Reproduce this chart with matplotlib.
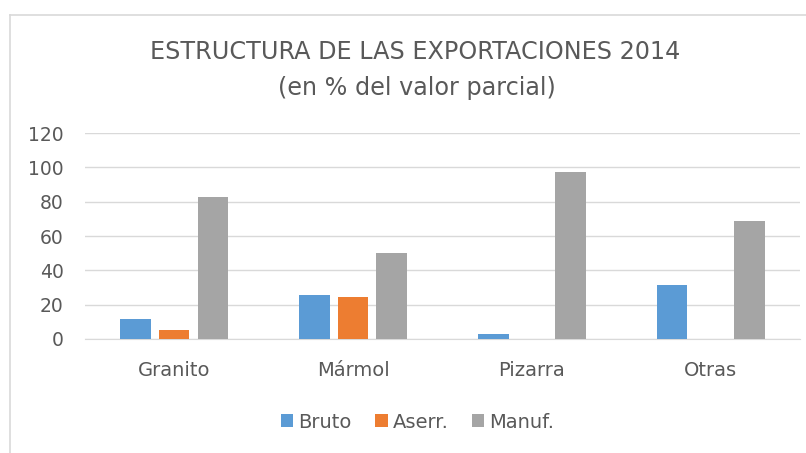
import matplotlib.pyplot as plt
from matplotlib.lines import Line2D
import numpy as np

categorias = ['Granito', 'Mármol', 'Pizarra', 'Otras']
series = ['Bruto', 'Aserr.', 'Manuf.']
bruto = [11.8, 25.8, 2.9, 31.2]
aserr = [5.4, 24.4, 0, 0]
manuf = [82.8, 49.8, 97.1, 68.8]
colores = ['#5B9BD5', '#ED7D31', '#A5A5A5']

texto = '#595959'

fig = plt.figure(figsize=(8.06, 4.53), dpi=100)
ax = fig.add_axes([0.105, 0.252, 0.888, 0.454])

x = np.arange(len(categorias))
ancho = 0.17
paso = 0.216
for i, (vals, nombre) in enumerate(zip([bruto, aserr, manuf], series)):
    ax.bar(x + (i - 1) * paso, vals, ancho, color=colores[i], label=nombre, zorder=3)

ax.set_xlim(-0.5, 3.5)
ax.set_ylim(0, 120)
ax.set_yticks(range(0, 121, 20))
ax.set_xticks(x)
ax.set_xticklabels(categorias)
ax.grid(axis='y', color='#D9D9D9', linewidth=1, zorder=0)
for s in ['top', 'right', 'left']:
    ax.spines[s].set_visible(False)
ax.spines['bottom'].set_color('#D9D9D9')
ax.tick_params(axis='both', length=0, colors=texto)
ax.tick_params(axis='x', pad=16, labelsize=14)
ax.tick_params(axis='y', pad=15, labelsize=13.5)

fig.text(0.515, 0.885, 'ESTRUCTURA DE LAS EXPORTACIONES 2014', ha='center', va='center',
         fontsize=17.2, color=texto)
fig.text(0.517, 0.805, '(en % del valor parcial)', ha='center', va='center',
         fontsize=17.2, color=texto)

ax.legend(loc='center', bbox_to_anchor=(0.465, -0.405), ncol=3, frameon=False,
          fontsize=14, labelcolor=texto, handlelength=0.65, handleheight=0.65,
          handletextpad=0.25, columnspacing=1.2)

# marco del gráfico
fig.add_artist(Line2D([10 / 806, 1], [1 - 15 / 453, 1 - 15 / 453], color='#D9D9D9', lw=1.2))
fig.add_artist(Line2D([10 / 806, 10 / 806], [0, 1 - 15 / 453], color='#D9D9D9', lw=1.2))

fig.savefig('out.png', dpi=100)
